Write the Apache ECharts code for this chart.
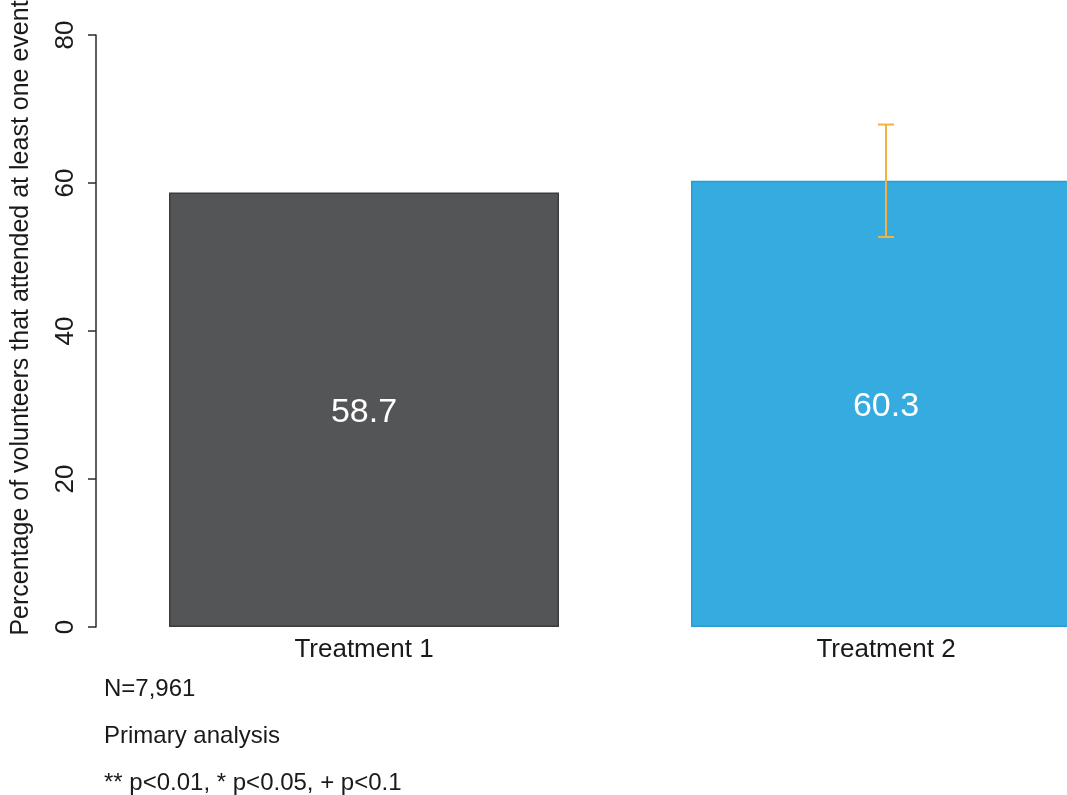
<!DOCTYPE html>
<html>
<head>
<meta charset="utf-8">
<script src="https://cdn.jsdelivr.net/npm/echarts@6/dist/echarts.min.js"></script>
<style>
  html, body { margin: 0; padding: 0; background: #ffffff; }
  #chart { width: 1067px; height: 795px; }
</style>
</head>
<body>
<div id="chart"></div>
<script>
// Share of volunteers attending at least one event, by treatment arm
const categories = ['Treatment 1', 'Treatment 2'];
const attendance = [58.7, 60.3];
const ciLow = [null, 52.7];
const ciHigh = [null, 67.9];
const yTicks = [0, 20, 40, 60, 80];
const yTitle = 'Percentage of volunteers that attended at least one event';
const notes = ['N=7,961', 'Primary analysis', '** p<0.01, * p<0.05, + p<0.1'];

const barColors = ['#545557', '#35abe0'];
const barBorders = ['#3b3c3d', '#2a9cd3'];
const FONT = '"Liberation Sans", Arial, sans-serif';

const chart = echarts.init(document.getElementById('chart'));

const errorData = categories
  .map((c, i) => [i, ciLow[i], ciHigh[i]])
  .filter(d => d[1] != null);

chart.setOption({
  animation: false,
  backgroundColor: '#ffffff',
  grid: {
    left: 103, top: 35, width: 1044, height: 592,
    containLabel: false,
    outerBoundsMode: 'none'
  },
  xAxis: {
    type: 'category',
    data: categories,
    axisLine: { show: false },
    axisTick: { show: false },
    axisLabel: { fontFamily: FONT, fontSize: 26, color: '#1a1a1a', margin: 10 }
  },
  yAxis: {
    type: 'value',
    min: yTicks[0],
    max: yTicks[yTicks.length - 1],
    interval: 20,
    offset: 7,
    axisLine: { show: true, lineStyle: { color: '#2a2a2a', width: 1.5 } },
    axisTick: { show: true, length: 8, lineStyle: { color: '#2a2a2a', width: 1.5 } },
    axisLabel: { rotate: 90, fontFamily: FONT, fontSize: 26, color: '#1a1a1a', margin: 17 },
    splitLine: { show: false }
  },
  series: [
    {
      type: 'bar',
      barWidth: 390,
      data: attendance.map((v, i) => ({
        value: v,
        itemStyle: { color: barColors[i], borderColor: barBorders[i], borderWidth: 1.5 }
      })),
      label: {
        show: true,
        position: 'inside',
        offset: [0, 3],
        fontFamily: FONT,
        fontSize: 34,
        color: '#ffffff',
        formatter: p => p.value.toFixed(1)
      }
    },
    {
      type: 'custom',
      clip: false,
      data: errorData,
      renderItem: (params, api) => {
        const x = api.value(0);
        const lo = api.coord([x, api.value(1)]);
        const hi = api.coord([x, api.value(2)]);
        const cap = 8;
        const style = { stroke: '#f5b040', lineWidth: 2 };
        return {
          type: 'group',
          children: [
            { type: 'line', shape: { x1: lo[0], y1: lo[1], x2: hi[0], y2: hi[1] }, style },
            { type: 'line', shape: { x1: hi[0] - cap, y1: hi[1], x2: hi[0] + cap, y2: hi[1] }, style },
            { type: 'line', shape: { x1: lo[0] - cap, y1: lo[1], x2: lo[0] + cap, y2: lo[1] }, style }
          ]
        };
      },
      z: 5
    }
  ],
  graphic: [
    {
      type: 'text',
      x: 21,
      y: 318,
      rotation: Math.PI / 2,
      style: {
        text: yTitle, fontFamily: FONT, fontSize: 25, fill: '#1a1a1a',
        align: 'center', verticalAlign: 'middle'
      }
    }
  ].concat(notes.map((t, i) => ({
    type: 'text',
    left: 104,
    top: 677 + i * 47,
    style: { text: t, fontFamily: FONT, fontSize: 24, fill: '#1a1a1a' }
  })))
});
</script>
</body>
</html>
